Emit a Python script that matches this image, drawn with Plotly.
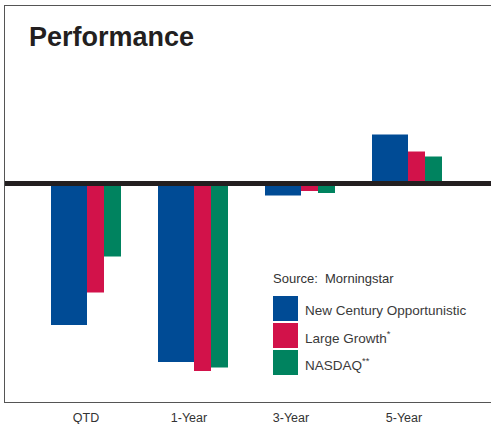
import plotly.graph_objects as go

categories = ["QTD", "1-Year", "3-Year", "5-Year"]
series_names = ["New Century Opportunistic", "Large Growth<sup>*</sup>", "NASDAQ<sup>**</sup>"]
new_century = [-28.3, -35.7, -2.4, 9.8]
large_growth = [-21.8, -37.5, -1.5, 6.4]
nasdaq = [-14.6, -36.8, -1.9, 5.4]
colors = ["#004b95", "#d2124a", "#00835f"]

W, H = 491, 424
L, T, R, B = 5, 6, 491, 402


def px_x(p):
    return (p - L) / (R - L)


def px_y(p):
    return (B - p) / (B - T)


unit = 107.0  # pixels per category step
x0 = 86       # pixel of first category
widths = [36 / unit, 17 / unit, 17 / unit]
offsets = [-35 / unit, 1 / unit, 18 / unit]
tick_px = [86, 189, 291, 404]
zero_px = 183.5

fig = go.Figure()
for name, vals, col, w, off in zip(series_names, [new_century, large_growth, nasdaq], colors, widths, offsets):
    fig.add_trace(go.Bar(
        x=list(range(len(categories))), y=vals, name=name,
        marker=dict(color=col, line=dict(width=0)),
        width=w, offset=off, showlegend=False,
    ))

fig.update_layout(
    width=W, height=H,
    margin=dict(l=L, r=W - R, t=T, b=H - B),
    paper_bgcolor="white", plot_bgcolor="white",
    barmode="overlay",
    font=dict(family="Liberation Sans, Arial, sans-serif", color="#333333"),
    xaxis=dict(
        range=[(L - x0) / unit, (R - x0) / unit],
        tickvals=[(p - x0) / unit for p in tick_px], ticktext=categories,
        showgrid=False, zeroline=False,
        showline=True, linecolor="#555555", linewidth=1, mirror=True,
        ticks="outside", ticklen=4, tickcolor="rgba(0,0,0,0)",
        tickfont=dict(size=12.5, color="#333333"),
    ),
    yaxis=dict(
        range=[-(B - zero_px) / 5, (zero_px - T) / 5],
        showgrid=False, zeroline=False, showticklabels=False,
        showline=True, linecolor="#555555", linewidth=1, mirror=False,
    ),
)

# thick zero line drawn above the bars
fig.add_shape(type="line", xref="paper", yref="y", x0=0, x1=1, y0=0, y1=0,
              line=dict(color="#231f20", width=5), layer="above")

# title
fig.add_annotation(text="<b>Performance</b>", xref="paper", yref="paper",
                   x=px_x(27), y=px_y(37), xanchor="left", yanchor="middle",
                   showarrow=False, font=dict(size=27, color="#231f20"))

# source note
fig.add_annotation(text="Source:  Morningstar", xref="paper", yref="paper",
                   x=px_x(271), y=px_y(278), xanchor="left", yanchor="middle",
                   showarrow=False, font=dict(size=13, color="#333333"))

# manual legend
sw_top = [296, 323, 350]
for name, col, top in zip(series_names, colors, sw_top):
    fig.add_shape(type="rect", xref="paper", yref="paper",
                  x0=px_x(273), x1=px_x(298), y0=px_y(top + 25), y1=px_y(top),
                  fillcolor=col, line=dict(width=0))
    fig.add_annotation(text=name, xref="paper", yref="paper",
                       x=px_x(303), y=px_y(top + 14), xanchor="left", yanchor="middle",
                       showarrow=False, font=dict(size=13.5, color="#3a3a3a"))

fig.write_html("out.html", config={"displayModeBar": False},
               post_script="document.body.style.margin='0';document.body.style.padding='0';")
